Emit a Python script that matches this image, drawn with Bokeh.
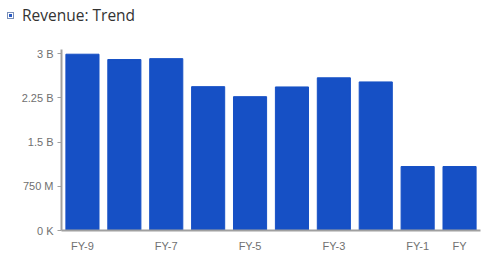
from bokeh.plotting import figure
from bokeh.models import ColumnDataSource, FixedTicker, Range1d, Div
from bokeh.layouts import column
from bokeh.embed import file_html
from bokeh.resources import INLINE

# Revenue by fiscal year (in billions)
periods = ["FY-9", "FY-8", "FY-7", "FY-6", "FY-5", "FY-4", "FY-3", "FY-2", "FY-1", "FY"]
revenue_b = [2.99, 2.90, 2.915, 2.44, 2.27, 2.435, 2.59, 2.52, 1.085, 1.085]
shown_periods = ["FY-9", "FY-7", "FY-5", "FY-3", "FY-1", "FY"]
y_ticks = [0, 0.75, 1.5, 2.25, 3.0]
y_tick_labels = ["0 K", "750 M", "1.5 B", "2.25 B", "3 B"]

idx = list(range(len(periods)))
source = ColumnDataSource(dict(x=idx, top=revenue_b, label=periods))

header = Div(
    text=(
        '<div style="display:flex;align-items:center;height:30px;'
        'font-family:\'Open Sans\';font-size:15.5px;color:#333;">'
        '<span style="display:inline-block;box-sizing:border-box;width:7px;height:7px;'
        'border:1px solid #7a8fb8;margin:0 8px 0 7px;position:relative;">'
        '<span style="position:absolute;left:1px;top:1px;width:3px;height:3px;'
        'background:#2a5bc4;"></span></span>Revenue: Trend</div>'
    ),
    width=494, height=30, margin=(0, 0, 0, 0),
)

p = figure(
    width=494, height=234, frame_width=419, frame_height=181,
    output_backend="svg", toolbar_location=None,
    x_range=Range1d(-0.5, 9.5), y_range=Range1d(0, 3.07),
    min_border_left=61, min_border_right=14, min_border_top=19, min_border_bottom=34,
    margin=(0, 0, 0, 0),
)
p.vbar(x="x", top="top", width=0.79, source=source, color="#1650c5")

p.xgrid.visible = False
p.ygrid.visible = False
p.outline_line_color = None

p.yaxis.ticker = FixedTicker(ticks=y_ticks)
p.yaxis.major_label_overrides = {t: l for t, l in zip(y_ticks, y_tick_labels)}
p.yaxis.minor_tick_line_color = None
p.yaxis.major_tick_out = 4
p.yaxis.major_tick_in = 0
p.yaxis.axis_line_color = "#a0a0a0"
p.yaxis.axis_line_width = 2
p.yaxis.major_tick_line_color = "#a0a0a0"
p.yaxis.major_label_text_color = "#707070"
p.yaxis.major_label_text_font = "Liberation Sans"
p.yaxis.major_label_text_font_size = "11px"
p.yaxis.major_label_standoff = 4

shown_idx = [periods.index(s) for s in shown_periods]
p.xaxis.ticker = FixedTicker(ticks=shown_idx)
p.xaxis.major_label_overrides = {i: periods[i] for i in shown_idx}
p.xaxis.minor_tick_line_color = None
p.xaxis.major_tick_line_color = None
p.xaxis.axis_line_color = "#a0a0a0"
p.xaxis.axis_line_width = 2
p.xaxis.major_label_text_color = "#707070"
p.xaxis.major_label_text_font = "Liberation Sans"
p.xaxis.major_label_text_font_size = "11px"
p.xaxis.major_label_standoff = 3

layout = column(header, p, spacing=0)
open("out.html", "w").write(file_html(layout, INLINE))
